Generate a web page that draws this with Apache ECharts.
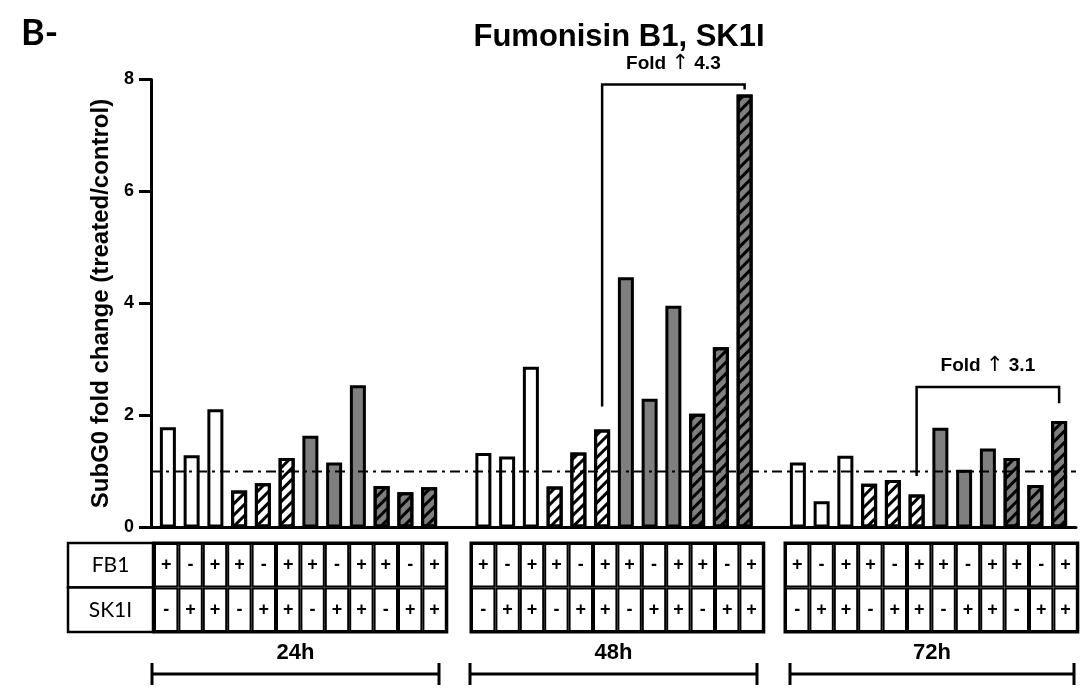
<!DOCTYPE html>
<html>
<head>
<meta charset="utf-8">
<script src="https://cdn.jsdelivr.net/npm/echarts@6/dist/echarts.min.js"></script>
<style>
  html, body { margin: 0; padding: 0; background: #fff; }
  #chart { width: 1081px; height: 698px; }
</style>
</head>
<body>
<div id="chart"></div>
<script>
// Time points, one block of 12 conditions each
const timePoints = ['24h', '48h', '72h'];
// Treatment pattern of the 12 conditions (same in every block)
const fb1Signs  = ['+', '-', '+', '+', '-', '+', '+', '-', '+', '+', '-', '+'];
const sk1iSigns = ['-', '+', '+', '-', '+', '+', '-', '+', '+', '-', '+', '+'];
// SubG0 fold change (treated/control)
const values24h = [1.79, 1.29, 2.11, 0.66, 0.79, 1.24, 1.64, 1.16, 2.54, 0.74, 0.63, 0.72];
const values48h = [1.33, 1.27, 2.87, 0.73, 1.34, 1.75, 4.47, 2.30, 3.96, 2.03, 3.22, 7.73];
const values72h = [1.16, 0.47, 1.28, 0.78, 0.85, 0.59, 1.78, 1.03, 1.41, 1.24, 0.76, 1.90];
const yTicks = [0, 2, 4, 6, 8];
const controlLevel = 1;
// Fold-change callouts: block, first and last bar compared, text
const foldNotes = [
  { block: 1, from: 5, to: 11, label: 'Fold \u2191 4.3' },
  { block: 2, from: 5, to: 11, label: 'Fold \u2191 3.1' }
];

const blockValues = [values24h, values48h, values72h];

// ---- layout and styling ----
const FONT = '"Liberation Sans", Arial, sans-serif';
const FONT2 = 'Lato, "Open Sans", sans-serif';
const GRID_TOP = 79.5, GRID_BOTTOM = 170.5;
const blockLefts = [156, 471.5, 786];
const blockWidth = 285;
const GRAY = '#7f7f7f';
const hatch = {
  symbol: 'rect', symbolSize: 1, color: '#000',
  dashArrayX: [1, 0], dashArrayY: [2.2, 4.6], rotation: -Math.PI / 4
};
// white, white hatched, grey, grey hatched — three bars each
const barLooks = [
  { color: '#fff' },
  { color: '#fff', decal: hatch },
  { color: GRAY },
  { color: GRAY, decal: hatch }
];
// bracket heights (in axis units) for each fold callout
const bracketLevels = [
  { top: 7.91, fromEnd: 2.16, toEnd: 7.82 },
  { top: 2.51, fromEnd: 0.92, toEnd: 2.22 }
];
const table = { top: 543, rowH: 44.5, labelLeft: 68, labelRight: 153,
  lefts: [154, 471, 785], cellW: 24.4 };
const spans = [[152, 439], [470, 757], [790, 1074]];

const chart = echarts.init(document.getElementById('chart'), null, { renderer: 'canvas' });

const grids = [{ left: 151, right: 5, top: GRID_TOP, bottom: GRID_BOTTOM }];
const xAxes = [{
  type: 'value', gridIndex: 0, min: 0, max: 1,
  axisLine: { show: true, lineStyle: { color: '#000', width: 3 } },
  axisTick: { show: false }, axisLabel: { show: false }, splitLine: { show: false }
}];
const yAxes = [{
  type: 'value', gridIndex: 0, min: yTicks[0], max: yTicks[yTicks.length - 1],
  interval: yTicks[1] - yTicks[0],
  name: 'SubG0 fold change (treated/control)',
  nameLocation: 'middle', nameGap: 36, nameRotate: 90,
  nameTextStyle: { fontFamily: FONT, fontWeight: 'bold', fontSize: 24, color: '#000' },
  axisLine: { show: true, lineStyle: { color: '#000', width: 3 } },
  axisTick: { show: true, inside: false, length: 12, lineStyle: { color: '#000', width: 3 } },
  axisLabel: { fontFamily: FONT, fontWeight: 'bold', fontSize: 18, color: '#000', margin: 17 },
  splitLine: { show: false }
}];
const series = [{
  type: 'line', xAxisIndex: 0, yAxisIndex: 0, z: 5, silent: true,
  symbol: 'none',
  lineStyle: { color: '#000', width: 2, type: [10, 5, 3, 5] },
  data: [[0, controlLevel], [1, controlLevel]]
}];

blockValues.forEach((vals, b) => {
  const k = b + 1;
  grids.push({ left: blockLefts[b], width: blockWidth, top: GRID_TOP, bottom: GRID_BOTTOM });
  xAxes.push({
    type: 'category', gridIndex: k, show: false,
    data: vals.map((_, i) => 'FB1 ' + fb1Signs[i] + ' / SK1I ' + sk1iSigns[i])
  });
  yAxes.push({ type: 'value', gridIndex: k, min: 0, max: 8, show: false });
  series.push({
    type: 'bar', name: timePoints[b], xAxisIndex: k, yAxisIndex: k,
    barWidth: 16, z: 3,
    data: vals.map((v, i) => ({
      value: v,
      itemStyle: Object.assign({ borderColor: '#000', borderWidth: 3 }, barLooks[Math.floor(i / 3)])
    }))
  });
});

chart.setOption({
  animation: false,
  backgroundColor: '#fff',
  title: [
    { text: 'B-', left: 16, top: 10,
      textStyle: { fontFamily: FONT2, fontWeight: 'bold', fontSize: 36, color: '#000' } },
    { text: 'Fumonisin B1, SK1I', left: 614, top: 17, textAlign: 'center',
      textStyle: { fontFamily: FONT, fontWeight: 'bold', fontSize: 31, color: '#000' } }
  ],
  grid: grids,
  xAxis: xAxes,
  yAxis: yAxes,
  series: series
});

// ---- treatment table, time spans and fold callouts ----
const g = [];
const rowLabels = ['FB1', 'SK1I'];
const rowSigns = [fb1Signs, sk1iSigns];
rowLabels.forEach((lab, r) => {
  const y = table.top + r * table.rowH;
  g.push({ type: 'rect', shape: { x: table.labelLeft, y: y, width: table.labelRight - table.labelLeft, height: table.rowH },
    style: { fill: '#fff', stroke: '#000', lineWidth: 2.5 } });
  g.push({ type: 'text', x: (table.labelLeft + table.labelRight) / 2, y: y + table.rowH / 2,
    style: { text: lab, fontFamily: FONT2, fontSize: 21, fill: '#000', align: 'center', verticalAlign: 'middle' } });
});
table.lefts.forEach((x0, b) => {
  rowSigns.forEach((signs, r) => {
    const y = table.top + r * table.rowH;
    signs.forEach((s, i) => {
      const x = x0 + i * table.cellW;
      g.push({ type: 'rect', shape: { x: x + 1, y: y + 1, width: table.cellW - 2, height: table.rowH - 2 },
        style: { fill: '#fff', stroke: '#000', lineWidth: 2 } });
      g.push({ type: 'text', x: x + table.cellW / 2, y: y + table.rowH / 2,
        style: { text: s, fontFamily: FONT, fontWeight: 'bold', fontSize: 18, fill: '#000', align: 'center', verticalAlign: 'middle' } });
    });
  });
  g.push({ type: 'rect', shape: { x: x0, y: table.top, width: table.cellW * 12, height: table.rowH * 2 },
    style: { fill: 'none', stroke: '#000', lineWidth: 3 } });
  const [a, c] = spans[b];
  g.push({ type: 'text', x: (a + c) / 2, y: 653,
    style: { text: timePoints[b], fontFamily: FONT, fontWeight: 'bold', fontSize: 22, fill: '#000', align: 'center', verticalAlign: 'middle' } });
  g.push({ type: 'polyline', shape: { points: [[a, 674], [c, 674]] }, style: { stroke: '#000', lineWidth: 3 } });
  g.push({ type: 'polyline', shape: { points: [[a, 663], [a, 685]] }, style: { stroke: '#000', lineWidth: 3 } });
  g.push({ type: 'polyline', shape: { points: [[c, 663], [c, 685]] }, style: { stroke: '#000', lineWidth: 3 } });
});

foldNotes.forEach((n, j) => {
  const lv = bracketLevels[j];
  const k = { gridIndex: n.block + 1 };
  const pL = chart.convertToPixel(k, [n.from, lv.fromEnd]);
  const pR = chart.convertToPixel(k, [n.to, lv.toEnd]);
  const pT = chart.convertToPixel(k, [n.from, lv.top]);
  g.push({ type: 'polyline', z: 10,
    shape: { points: [[pL[0], pL[1]], [pL[0], pT[1]], [pR[0], pT[1]], [pR[0], pR[1]]] },
    style: { fill: 'none', stroke: '#000', lineWidth: 2.5 } });
  // the arrow is set in a font with a full-height glyph
  g.push({ type: 'text', z: 10, x: (pL[0] + pR[0]) / 2, y: pT[1] - 21,
    style: {
      text: n.label.replace('\u2191', '{arr|\u2191}'),
      fontFamily: FONT, fontWeight: 'bold', fontSize: 19, fill: '#000',
      align: 'center', verticalAlign: 'middle',
      rich: { arr: { fontFamily: '"DejaVu Sans", sans-serif', fontWeight: 'normal', fontSize: 21, fill: '#000' } }
    } });
});

chart.setOption({ graphic: { elements: g } });
</script>
</body>
</html>
